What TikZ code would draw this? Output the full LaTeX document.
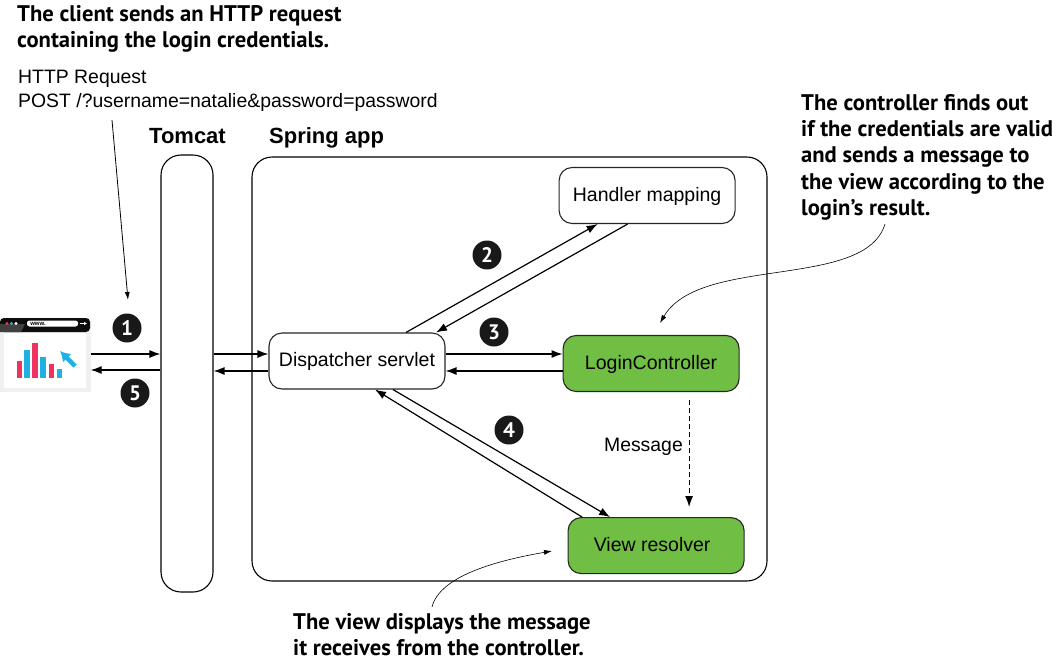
\documentclass[tikz,border=0pt]{standalone}
\usepackage{fontspec}
\setmainfont{Liberation Sans}
\newfontfamily\calloutfont{PT Sans}
\usetikzlibrary{positioning, arrows.meta, calc}
\definecolor{boxgreen}{HTML}{70BF44}
\definecolor{barpink}{HTML}{EF3360}
\definecolor{barblue}{HTML}{1FB1E3}
\tikzset{
>={Latex[length=11pt,width=8pt]}, % arrow heads
box/.style={draw=black!85, line width=1.1pt, rounded corners=13pt, minimum width=176pt, minimum height=56pt, inner sep=0pt, text height=15pt, text depth=4pt, font=\fontsize{19.5}{23}\selectfont},
greenbox/.style={box, fill=boxgreen},
lane/.style={draw=black, line width=1.1pt, rounded corners=20pt, inner sep=0pt},
flow/.style={->, line width=1.2pt},
thinflow/.style={->, line width=0.6pt, >={Latex[length=8pt,width=5pt]}},
callout/.style={align=left, inner sep=0pt, font=\calloutfont\bfseries\fontsize{22.6}{26.3}\selectfont},
plain/.style={inner sep=0pt, font=\fontsize{19.4}{23.5}\selectfont},
title/.style={inner sep=0pt, font=\bfseries\fontsize{22}{26}\selectfont},
badge/.style={circle, fill=black!90, text=white, minimum size=29pt, inner sep=0pt, font=\calloutfont\bfseries\fontsize{21}{21}\selectfont},
}
\begin{document}
\begin{tikzpicture}[x=1pt, y=-1pt]
\useasboundingbox (0,0) rectangle (1056,662);
% containers
\node[lane, minimum width=52pt, minimum height=437pt] (tomcat) at (187,373.5) {};
\node[lane, minimum width=515pt, minimum height=424pt] (spring) at (509.5,369) {};
\node[title, anchor=south west] (tomcatlabel) at (149,144) {Tomcat};
\node[title, anchor=south west] (springlabel) at (269,148) {Spring app};
% components
\node[box, fill=white] (dispatcher) at (357,361) {Dispatcher servlet};
\node[box, fill=white, right=113pt of dispatcher, yshift=165.5pt] (handler) {Handler mapping};
\node[greenbox, right=117pt of dispatcher, yshift=-2.5pt] (login) {LoginController};
\node[greenbox, below=125pt of login, xshift=5pt] (view) {\kern-8pt View resolver};
% browser
\node[minimum width=91pt, minimum height=74pt, inner sep=0pt, fill=black!6] (browser) at (45,355) {};
\fill[white] (4,333) rectangle (86,388);
\fill[black!95, rounded corners=4pt] (0,332) -- (0,318) -- (90,318) -- (90,332) -- cycle;
\fill[black!75] (0,324) -- (0,332) -- (21,332) -- (25,324) -- cycle;
\fill[white, rounded corners=2.5pt] (27,320.5) rectangle (78,326.5);
\node[inner sep=0pt, font=\bfseries\fontsize{6}{6}\selectfont] (www) at (38,323.5) {www.};
\fill[barpink] (7,323.5) circle (1.6);
\fill[barblue] (11.5,323.5) circle (1.6);
\fill[white] (16,323.5) circle (1.6);
\draw[white, line width=0.9pt, -{Latex[length=3pt,width=3.5pt]}] (80,323.5) -- (87,323.5);
\foreach \x/\y/\c in {16.7/361/barpink, 24.3/350/barblue, 32.3/343/barpink, 40.3/357/barblue, 48.7/364/barpink, 56.7/369/barblue}
  \fill[\c] (\x,\y) rectangle +(5.3,378-\y);
\draw[barblue, line width=4.5pt, -{Latex[length=10pt,width=12pt]}] (75,366) -- (60,351);
% request and response
\draw[flow] ([yshift=1pt]browser.east) -- (tomcat.west |- 0,354);
\draw[flow] (tomcat.west |- 0,370) -- ([yshift=-15pt]browser.east);
\draw[flow] (tomcat.east |- 0,354) -- ([yshift=7pt]dispatcher.west);
\draw[flow] ([yshift=-10pt]dispatcher.west) -- (tomcat.east |- 0,371);
% dispatcher to handler
\draw[flow] ([xshift=49pt]dispatcher.north) -- ([xshift=-49.5pt]handler.south);
\draw[flow] ([xshift=-19.5pt]handler.south) -- ([xshift=79pt]dispatcher.north);
% dispatcher to controller
\draw[flow] ([yshift=7pt]dispatcher.east) -- ([yshift=9.5pt]login.west);
\draw[flow] ([yshift=-7.5pt]login.west) -- ([yshift=-10pt]dispatcher.east);
% dispatcher to view
\draw[flow] ([xshift=36pt]dispatcher.south) -- ([xshift=-46pt]view.north);
\draw[flow] ([xshift=-74pt]view.north) -- ([xshift=18pt]dispatcher.south);
% message
\draw[flow, dash pattern=on 5pt off 3pt] ([xshift=38pt,yshift=-8pt]login.south) -- ([xshift=33pt,yshift=10pt]view.north);
\node[plain, anchor=east] (message) at (683,447) {Message};
% badges
\node[badge] (one) at (127,328) {1};
\node[badge] (two) at (487,255) {2};
\node[badge] (three) at (494,332) {3};
\node[badge] (four) at (509,430) {4};
\node[badge] (five) at (135,393) {5};
% texts
\node[callout, anchor=north west] (clientnote) at (17,5) {The client sends an HTTP request\\containing the login credentials.};
\node[plain, anchor=north west, align=left] (request) at (18,70) {HTTP Request\\POST /?username=natalie\&password=password};
\node[callout, anchor=north west] (controllernote) at (801,94) {The controller finds out\\if the credentials are valid\\and sends a message to\\the view according to the\\login’s result.};
\node[callout, anchor=north west] (viewnote) at (293,613) {The view displays the message\\it receives from the controller.};
% pointers
\coordinate (requesttail) at (112,120);
\coordinate (clienttip) at (128,300);
\draw[thinflow, line width=0.8pt] (requesttail) -- (clienttip);
\coordinate (controllertail) at (885,224);
\coordinate (controllertip) at (660,323);
\draw[thinflow] (controllertail) .. controls (865,290) and (700,255) .. (controllertip);
\coordinate (viewtail) at (432,607);
\coordinate (viewtip) at (552,551);
\draw[thinflow] (viewtail) .. controls (440,575) and (500,560) .. (viewtip);
\end{tikzpicture}
\end{document}
